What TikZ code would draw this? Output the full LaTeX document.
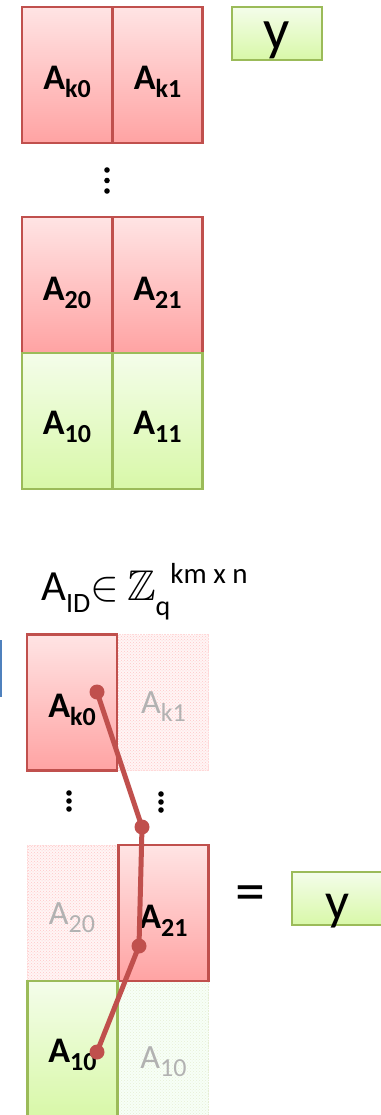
\RequirePackage{fix-cm}
\documentclass[tikz,border=0pt]{standalone}
\usepackage{amssymb}
\usepackage{fontspec}
\setmainfont{Carlito}
\usepackage{tikz}
\usetikzlibrary{patterns}
\definecolor{brick}{HTML}{C0504D}
\definecolor{rosetop}{HTML}{FFE4E4}
\definecolor{rosebot}{HTML}{FFA3A3}
\definecolor{olive}{HTML}{9BBB59}
\definecolor{limetop}{HTML}{F4FDEA}
\definecolor{limebot}{HTML}{D8F8A8}
\definecolor{steel}{HTML}{4F81BD}
\newcommand{\blk}[1]{A\raisebox{-8pt}{\fontsize{26}{26}\selectfont #1}}

\tikzset{
  blockcell/.style={minimum width=90pt,minimum height=136pt,inner sep=0pt,line width=2.2pt},
  redcell/.style={blockcell,draw=brick,top color=rosetop,bottom color=rosebot},
  greencell/.style={blockcell,draw=olive,top color=limetop,bottom color=limebot},
  ghostred/.style={blockcell,line width=0.6pt,draw=red!15,densely dotted,preaction={fill=red!4},pattern=crosshatch dots,pattern color=red!22},
  ghostgreen/.style={blockcell,line width=0.6pt,draw=olive!25,densely dotted,preaction={fill=green!3},pattern=crosshatch dots,pattern color=olive!25},
  lbl/.style={font=\fontsize{36}{36}\selectfont\bfseries,inner sep=0pt,anchor=base},
  ghostlbl/.style={font=\fontsize{34}{34}\selectfont,text=black!30,inner sep=0pt,anchor=base},
  ybox/.style={draw=olive,line width=2.2pt,top color=limetop,bottom color=limebot,minimum width=90pt,minimum height=53pt,inner sep=0pt},
  yfont/.style={inner sep=0pt,anchor=base},
}

\begin{document}
\begin{tikzpicture}[x=1pt,y=-1pt]
\useasboundingbox (0,0) rectangle (380,1115);
% stacked matrix
\foreach \nm/\cx/\cy in {k0/67/75,k1/157.5/75,20/67/285,21/157.5/285}{
  \node[redcell] (t\nm) at (\cx,\cy) {};
  \node[lbl] (lt\nm) at (\cx,\cy+15) {\blk{\nm}};}
\foreach \nm/\cx/\cy in {10/67/421,11/157.5/421}{
  \node[greencell] (t\nm) at (\cx,\cy) {};
  \node[lbl] (lt\nm) at (\cx,\cy+13) {\blk{\nm}};}
\foreach \d in {170,180.5,191}{\fill (107,\d) circle (2.8);}
\node[ybox] (ytop) at (277,33.5) {};
\node[yfont,font=\fontsize{58}{58}\selectfont] (ytoptxt) at (277,50) {y};

\node[inner sep=0pt,anchor=base west] (aid) at (41,600) {\fontsize{43}{43}\selectfont A\raisebox{-12pt}{\fontsize{28}{28}\selectfont ID}$\in$\hspace{8pt}$\mathbb{Z}$\raisebox{-15pt}{\fontsize{28}{28}\selectfont q}\raisebox{17pt}{\fontsize{29}{29}\selectfont km x n}};

% selected blocks
\draw[steel,line width=2pt] (0.8,640) -- (0.8,697);
\node[ghostred] (bk1) at (163.5,702.5) {};
\node[ghostred] (b20) at (72,913) {};
\node[ghostgreen] (b11) at (163.5,1049) {};
\node[ghostlbl] (lbk1) at (163.5,713) {\blk{k1}};
\node[ghostlbl] (lb20) at (72,924) {\blk{20}};
\node[ghostlbl] (lb11) at (163.5,1068) {\blk{10}};
\node[redcell] (bk0) at (72,702.5) {};
\node[redcell] (b21) at (163.5,913) {};
\node[greencell] (b10) at (72.5,1049) {};
\node[lbl] (lbk0) at (72,717) {\blk{k0}};
\node[lbl] (lb21) at (163.5,928) {\blk{21}};
\node[lbl] (lb10) at (72.5,1062) {\blk{10}};
\foreach \d in {793,801,809}{\fill (69,\d) circle (2.8); \fill (161,\d+1) circle (2.8);}

\coordinate (p1) at (97,692);
\coordinate (p2) at (142,827);
\coordinate (p3) at (139,946);
\coordinate (p4) at (97,1052);
\draw[brick,line width=5pt,line join=round] (p1) -- (p2) -- (p3) -- (p4);
\foreach \p in {p1,p2,p3,p4}{\fill[brick] (\p) circle (7.5);}

\node[inner sep=0pt,font=\fontsize{60}{60}\selectfont] (eq) at (250,899) {=};
\node[ybox] (ybot) at (337,898.5) {};
\node[yfont,font=\fontsize{53}{53}\selectfont] (ybottxt) at (337,919) {y};
\end{tikzpicture}
\end{document}
